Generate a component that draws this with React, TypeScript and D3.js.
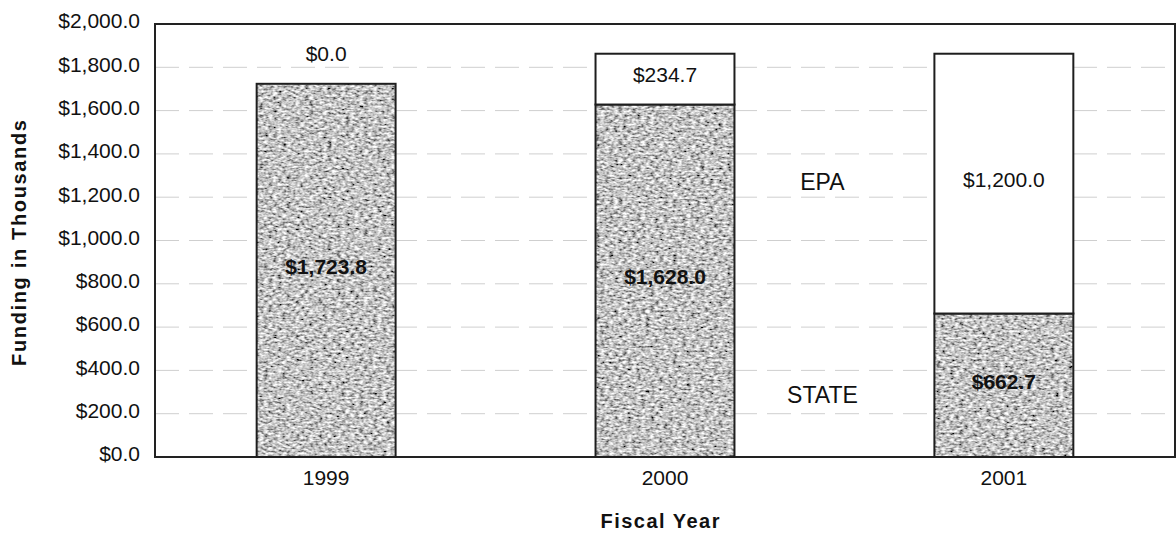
import React, { useRef, useEffect } from 'react';
import * as d3 from 'd3';

const years = ['1999', '2000', '2001'];
const stateFunds = [1723.8, 1628.0, 662.7];
const epaFunds = [0, 234.7, 1200.0];
const yTicks = [0, 200, 400, 600, 800, 1000, 1200, 1400, 1600, 1800, 2000];
const seriesNames = ['STATE', 'EPA'];
// where the series names sit (value on the y axis)
const seriesLabelValues = [285, 1270];

const W = 1176;
const H = 537;

export default function App() {
    const svgRef = useRef<SVGSVGElement>(null);

    useEffect(() => {
        if (!svgRef.current) return;
        const svg = d3.select(svgRef.current);
        svg.selectAll('*').remove();

        const margin = { top: 24, right: 1, bottom: 80, left: 155 };
        const innerW = W - margin.left - margin.right;
        const innerH = H - margin.top - margin.bottom;
        const font = '"Liberation Sans", Arial, sans-serif';

        const defs = svg.append('defs');
        // grainy gray fill like the scanned original
        const grain = defs.append('filter')
            .attr('id', 'grain')
            .attr('x', 0).attr('y', 0).attr('width', 1).attr('height', 1);
        grain.append('feTurbulence')
            .attr('type', 'fractalNoise')
            .attr('baseFrequency', '0.22 0.45')
            .attr('numOctaves', 2)
            .attr('seed', 3)
            .attr('result', 'noise');
        grain.append('feColorMatrix')
            .attr('in', 'noise')
            .attr('type', 'matrix')
            .attr('values', '1.7 0 0 0 -0.3  1.7 0 0 0 -0.3  1.7 0 0 0 -0.3  0 0 0 0 1')
            .attr('result', 'gray');
        grain.append('feComposite')
            .attr('in', 'gray')
            .attr('in2', 'SourceGraphic')
            .attr('operator', 'in');

        const g = svg.append('g')
            .attr('transform', `translate(${margin.left},${margin.top})`);

        const x = d3.scaleBand()
            .domain(years)
            .range([0, innerW])
            .paddingInner(0.59)
            .paddingOuter(0.3);

        const y = d3.scaleLinear()
            .domain([0, 2000])
            .range([innerH, 0]);

        // gridlines
        g.append('g')
            .selectAll('line')
            .data(yTicks.filter(d => d > 0 && d < 2000))
            .join('line')
            .attr('x1', 0)
            .attr('x2', innerW)
            .attr('y1', d => y(d))
            .attr('y2', d => y(d))
            .attr('stroke', '#cfcfcf')
            .attr('stroke-width', 1)
            .attr('stroke-dasharray', '24 10');

        // frame
        g.append('rect')
            .attr('x', 0)
            .attr('y', 0)
            .attr('width', innerW)
            .attr('height', innerH)
            .attr('fill', 'none')
            .attr('stroke', '#222')
            .attr('stroke-width', 2);

        const table = years.map((yr, i) => ({ year: yr, STATE: stateFunds[i], EPA: epaFunds[i] }));
        const stacked = d3.stack<any>().keys(seriesNames)(table);
        const fmt = d3.format('$,.1f');

        stacked.forEach(layer => {
            const key = layer.key;
            const grp = g.append('g');
            if (key === 'STATE') {
                grp.selectAll('rect.fill')
                    .data(layer)
                    .join('rect')
                    .attr('class', 'fill')
                    .attr('x', d => x(d.data.year)!)
                    .attr('y', d => y(d[1]))
                    .attr('width', x.bandwidth())
                    .attr('height', d => y(d[0]) - y(d[1]))
                    .attr('fill', '#999')
                    .attr('filter', 'url(#grain)');
            }
            grp.selectAll('rect.edge')
                .data(layer.filter(d => d[1] - d[0] > 0))
                .join('rect')
                .attr('class', 'edge')
                .attr('x', d => x(d.data.year)!)
                .attr('y', d => y(d[1]))
                .attr('width', x.bandwidth())
                .attr('height', d => y(d[0]) - y(d[1]))
                .attr('fill', key === 'EPA' ? '#fff' : 'none')
                .attr('stroke', '#1e1e1e')
                .attr('stroke-width', 2);

            grp.selectAll('text')
                .data(layer)
                .join('text')
                .attr('x', d => x(d.data.year)! + x.bandwidth() / 2)
                .attr('y', d => d[1] - d[0] > 0 ? (y(d[0]) + y(d[1])) / 2 - 4 : y(d[1]) - 30)
                .attr('dy', '0.35em')
                .attr('text-anchor', 'middle')
                .attr('font-family', font)
                .attr('font-size', 21)
                .attr('font-weight', key === 'STATE' ? 'bold' : 'normal')
                .attr('fill', '#111')
                .text(d => fmt(d.data[key]));
        });

        // series names between the 2000 and 2001 bars
        const midX = (x('2000')! + x('2001')! + x.bandwidth()) / 2 - 12;
        g.selectAll('text.series')
            .data(seriesNames)
            .join('text')
            .attr('class', 'series')
            .attr('x', midX)
            .attr('y', (d, i) => y(seriesLabelValues[i]))
            .attr('dy', '0.35em')
            .attr('text-anchor', 'middle')
            .attr('font-family', font)
            .attr('font-size', 23)
            .attr('fill', '#111')
            .text(d => d);

        // y axis labels
        g.append('g')
            .selectAll('text')
            .data(yTicks)
            .join('text')
            .attr('x', -15)
            .attr('y', d => y(d) - 3)
            .attr('dy', '0.35em')
            .attr('text-anchor', 'end')
            .attr('font-family', font)
            .attr('font-size', 21)
            .attr('fill', '#111')
            .text(d => fmt(d));

        // x axis labels
        g.append('g')
            .selectAll('text')
            .data(years)
            .join('text')
            .attr('x', d => x(d)! + x.bandwidth() / 2)
            .attr('y', innerH + 21)
            .attr('dy', '0.35em')
            .attr('text-anchor', 'middle')
            .attr('font-family', font)
            .attr('font-size', 21)
            .attr('fill', '#111')
            .text(d => d);

        svg.append('text')
            .attr('x', margin.left + x('2000')! + x.bandwidth() / 2 - 5)
            .attr('y', 521)
            .attr('dy', '0.35em')
            .attr('text-anchor', 'middle')
            .attr('font-family', font)
            .attr('font-size', 20)
            .attr('font-weight', 'bold')
            .attr('textLength', 119)
            .attr('lengthAdjust', 'spacing')
            .attr('fill', '#111')
            .text('Fiscal Year');

        svg.append('text')
            .attr('transform', `translate(19,${243}) rotate(-90)`)
            .attr('dy', '0.35em')
            .attr('text-anchor', 'middle')
            .attr('font-family', font)
            .attr('font-size', 20)
            .attr('font-weight', 'bold')
            .attr('textLength', 246)
            .attr('lengthAdjust', 'spacing')
            .attr('fill', '#111')
            .text('Funding in Thousands');
    }, []);

    return (
        <svg
            ref={svgRef}
            width={W}
            height={H}
            style={{ position: 'absolute', left: 0, top: 0, background: '#fff' }}
        />
    );
}
